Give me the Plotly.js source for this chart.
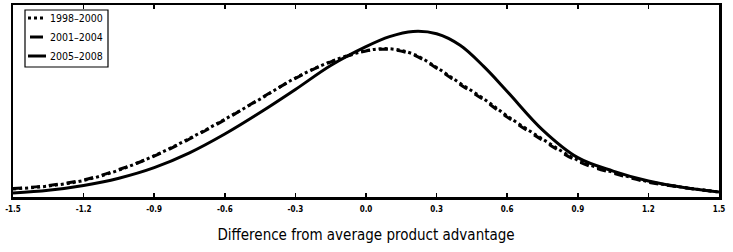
<!DOCTYPE html>
<html>
<head>
<meta charset="utf-8">
<script src="https://cdn.plot.ly/plotly-3.0.1.min.js"></script>
<style>html,body{margin:0;padding:0;background:#fff;}#chart{width:733px;height:252px;}</style>
</head>
<body>
<div id="chart"></div>
<script>
var xGrid = [-1.5,-1.35,-1.2,-1.05,-0.9,-0.75,-0.6,-0.45,-0.3,-0.15,0,0.1,0.2,0.3,0.4,0.5,0.6,0.75,0.9,1.05,1.2,1.35,1.5];
var d1998 = [0.042,0.057,0.086,0.14,0.215,0.305,0.405,0.51,0.62,0.705,0.762,0.772,0.745,0.675,0.592,0.512,0.422,0.302,0.192,0.128,0.08,0.05,0.026];
var d2001 = [0.044,0.06,0.089,0.143,0.213,0.302,0.402,0.512,0.618,0.703,0.76,0.769,0.741,0.671,0.586,0.506,0.416,0.296,0.186,0.124,0.077,0.049,0.026];
var d2005 = [0.021,0.035,0.06,0.098,0.153,0.23,0.328,0.44,0.56,0.685,0.783,0.835,0.862,0.85,0.79,0.68,0.55,0.35,0.205,0.135,0.083,0.049,0.026];
var seriesNames = ['1998\u20132000','2001\u20132004','2005\u20132008'];
var seriesDash = ['dot','dash','solid'];
var xTicks = [-1.5,-1.2,-0.9,-0.6,-0.3,0,0.3,0.6,0.9,1.2,1.5];
var xTickText = ['-1.5','-1.2','-0.9','-0.6','-0.3','0.0','0.3','0.6','0.9','1.2','1.5'];
var xTitle = 'Difference from average product advantage';

var seriesData = [d1998, d2001, d2005];
var traces = seriesData.map(function(d, i){
  return {x:xGrid, y:d, name:seriesNames[i], mode:'lines', showlegend:false,
          line:{color:'#000', width:3, dash:seriesDash[i], shape:'spline'}};
});

// manual legend (positions in pixels converted to paper coords)
var plotL = 13, plotW = 706, plotB = 197, plotH = 192;
function px(v){ return (v - plotL) / plotW; }
function py(v){ return (plotB - v) / plotH; }
var legendRowsY = [18, 37, 56];
var sampleX = [[28,46],[30,43],[28,46]];
var sampleDash = ['dot','solid','solid'];
var shapes = [{type:'rect', xref:'paper', yref:'paper', x0:px(25), x1:px(108), y0:py(67), y1:py(10),
               line:{color:'#000', width:1.2}, fillcolor:'#fff', layer:'above'}];
var annotations = [];
for (var i = 0; i < 3; i++) {
  shapes.push({type:'line', xref:'paper', yref:'paper', x0:px(sampleX[i][0]), x1:px(sampleX[i][1]),
               y0:py(legendRowsY[i]), y1:py(legendRowsY[i]), line:{color:'#000', width:3, dash:sampleDash[i]}, layer:'above'});
  annotations.push({xref:'paper', yref:'paper', x:px(48), y:py(legendRowsY[i]), xanchor:'left', yanchor:'middle',
                    text:seriesNames[i], showarrow:false,
                    font:{family:'DejaVu Sans Condensed', size:10.5, color:'#000'}});
}

var layout = {
  width:733, height:252,
  margin:{l:13, r:14, t:5, b:55},
  paper_bgcolor:'#fff', plot_bgcolor:'#fff',
  showlegend:false,
  shapes:shapes, annotations:annotations,
  xaxis:{range:[-1.5,1.5], tickmode:'array', tickvals:xTicks, ticktext:xTickText,
         ticks:'inside', ticklen:4, tickwidth:1.5, tickcolor:'#000',
         showline:true, linecolor:'#000', linewidth:2.5, mirror:'allticks',
         showgrid:false, zeroline:false, ticklabelstandoff:3,
         tickfont:{family:'DejaVu Sans Condensed', size:8, color:'#000', weight:'bold'},
         title:{text:xTitle, font:{family:'DejaVu Sans Condensed', size:15, color:'#000'}, standoff:17}},
  yaxis:{range:[0,1], showticklabels:false, ticks:'', showline:true, linecolor:'#000', linewidth:2.5, mirror:true,
         showgrid:false, zeroline:false}
};
Plotly.newPlot('chart', traces, layout, {displayModeBar:false, staticPlot:true});
</script>
</body>
</html>
